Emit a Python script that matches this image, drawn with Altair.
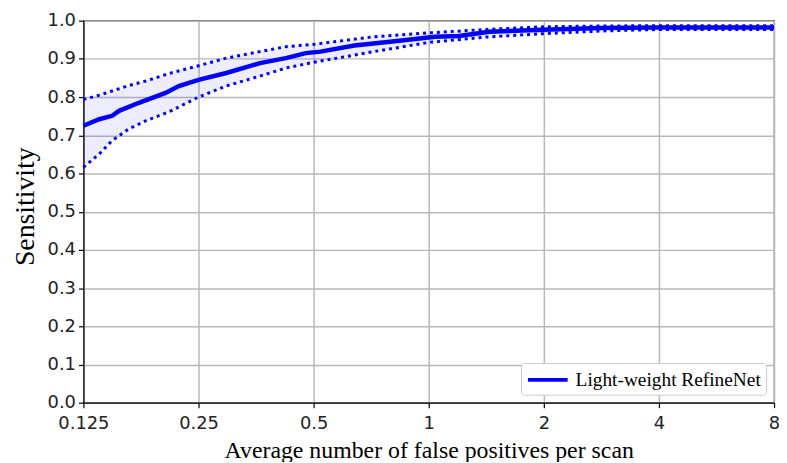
import altair as alt
import pandas as pd

# Main FROC curve
fp_main = [0.125, 0.1375, 0.1486, 0.155, 0.1746, 0.205, 0.222, 0.25, 0.2955, 0.362,
           0.423, 0.477, 0.521, 0.639, 0.792, 1.04, 1.20, 1.44, 2.0, 2.8, 4.0, 8.0]
sens_main = [0.725, 0.742, 0.751, 0.764, 0.785, 0.811, 0.829, 0.845, 0.863, 0.889,
             0.902, 0.915, 0.919, 0.935, 0.945, 0.958, 0.960, 0.971, 0.976, 0.981, 0.982, 0.982]

# Confidence band
fp_band = [0.125, 0.1375, 0.1486, 0.164, 0.182, 0.21, 0.25, 0.2955, 0.362, 0.423,
           0.5, 0.719, 1.0, 1.41, 2.0, 2.83, 4.0, 8.0]
sens_upper = [0.794, 0.805, 0.816, 0.830, 0.842, 0.862, 0.882, 0.902, 0.919, 0.932,
              0.938, 0.958, 0.968, 0.977, 0.984, 0.986, 0.987, 0.987]
sens_lower = [0.616, 0.651, 0.686, 0.716, 0.738, 0.762, 0.800, 0.829, 0.855, 0.876,
              0.891, 0.919, 0.943, 0.957, 0.966, 0.973, 0.977, 0.977]

x_ticks = [0.125, 0.25, 0.5, 1, 2, 4, 8]
y_ticks = [0.0, 0.1, 0.2, 0.3, 0.4, 0.5, 0.6, 0.7, 0.8, 0.9, 1.0]
series_name = "Light-weight RefineNet"

main_df = pd.DataFrame({"fp": fp_main, "sens": sens_main, "series": series_name})
band_df = pd.DataFrame({"fp": fp_band, "upper": sens_upper, "lower": sens_lower})

BLUE = "#0000ff"

x_scale = alt.Scale(type="log", base=2, domain=[0.125, 8], nice=False)
y_scale = alt.Scale(domain=[0, 1], nice=False)

x_axis = alt.Axis(values=x_ticks, format="~g", title="Average number of false positives per scan",
                  labelOverlap=False, labelFlush=False)
y_axis = alt.Axis(values=y_ticks, format=".1f", title="Sensitivity",
                  labelOverlap=False, labelFlush=False, titleY=187)


def xenc():
    return alt.X("fp:Q", scale=x_scale, axis=x_axis)


band = alt.Chart(band_df).mark_area(color=BLUE, opacity=0.07).encode(
    x=xenc(),
    y=alt.Y("upper:Q", scale=y_scale, axis=y_axis),
    y2="lower:Q",
)

upper_line = alt.Chart(band_df).mark_line(color=BLUE, strokeWidth=3, strokeDash=[3, 4]).encode(
    x=xenc(),
    y=alt.Y("upper:Q", scale=y_scale, axis=y_axis),
)
lower_line = alt.Chart(band_df).mark_line(color=BLUE, strokeWidth=3, strokeDash=[3, 4]).encode(
    x=xenc(),
    y=alt.Y("lower:Q", scale=y_scale, axis=y_axis),
)

main_line = alt.Chart(main_df).mark_line(strokeWidth=4.5).encode(
    x=xenc(),
    y=alt.Y("sens:Q", scale=y_scale, axis=y_axis),
    color=alt.Color("series:N", scale=alt.Scale(domain=[series_name], range=[BLUE]),
                    legend=alt.Legend(title=None, orient="none", legendX=441, legendY=345,
                                      symbolType="M-1,0H3", symbolSize=400,
                                      symbolStrokeWidth=4, labelFont="Liberation Serif",
                                      labelFontSize=19.5, labelColor="#000000", labelLimit=0,
                                      labelOffset=26,
                                      strokeColor="#cccccc", fillColor="#ffffff",
                                      padding=5, cornerRadius=3)),
)

chart = alt.layer(band, upper_line, lower_line, main_line).properties(
    width=696, height=385,
    autosize=alt.AutoSizeParams(type="none"),
    padding={"left": 76, "top": 11, "right": 5, "bottom": 58},
).configure_view(
    stroke="#222222", strokeWidth=1.2
).configure_axis(
    grid=True, gridColor="#b8b8b8", gridWidth=1.5,
    domainColor="#000000", domainWidth=1.2,
    tickColor="#000000", tickSize=5, tickWidth=1.2,
    labelFont="DejaVu Sans", labelFontSize=18, labelColor="#222222",
    titleFont="Liberation Serif", titleFontWeight="normal",
    titleColor="#000000",
).configure_axisX(
    labelPadding=7, titlePadding=6, titleFontSize=24,
).configure_axisY(
    labelPadding=3, titlePadding=8, titleFontSize=28,
)

chart.save("out.html", embed_options={"renderer": "svg", "actions": False})
